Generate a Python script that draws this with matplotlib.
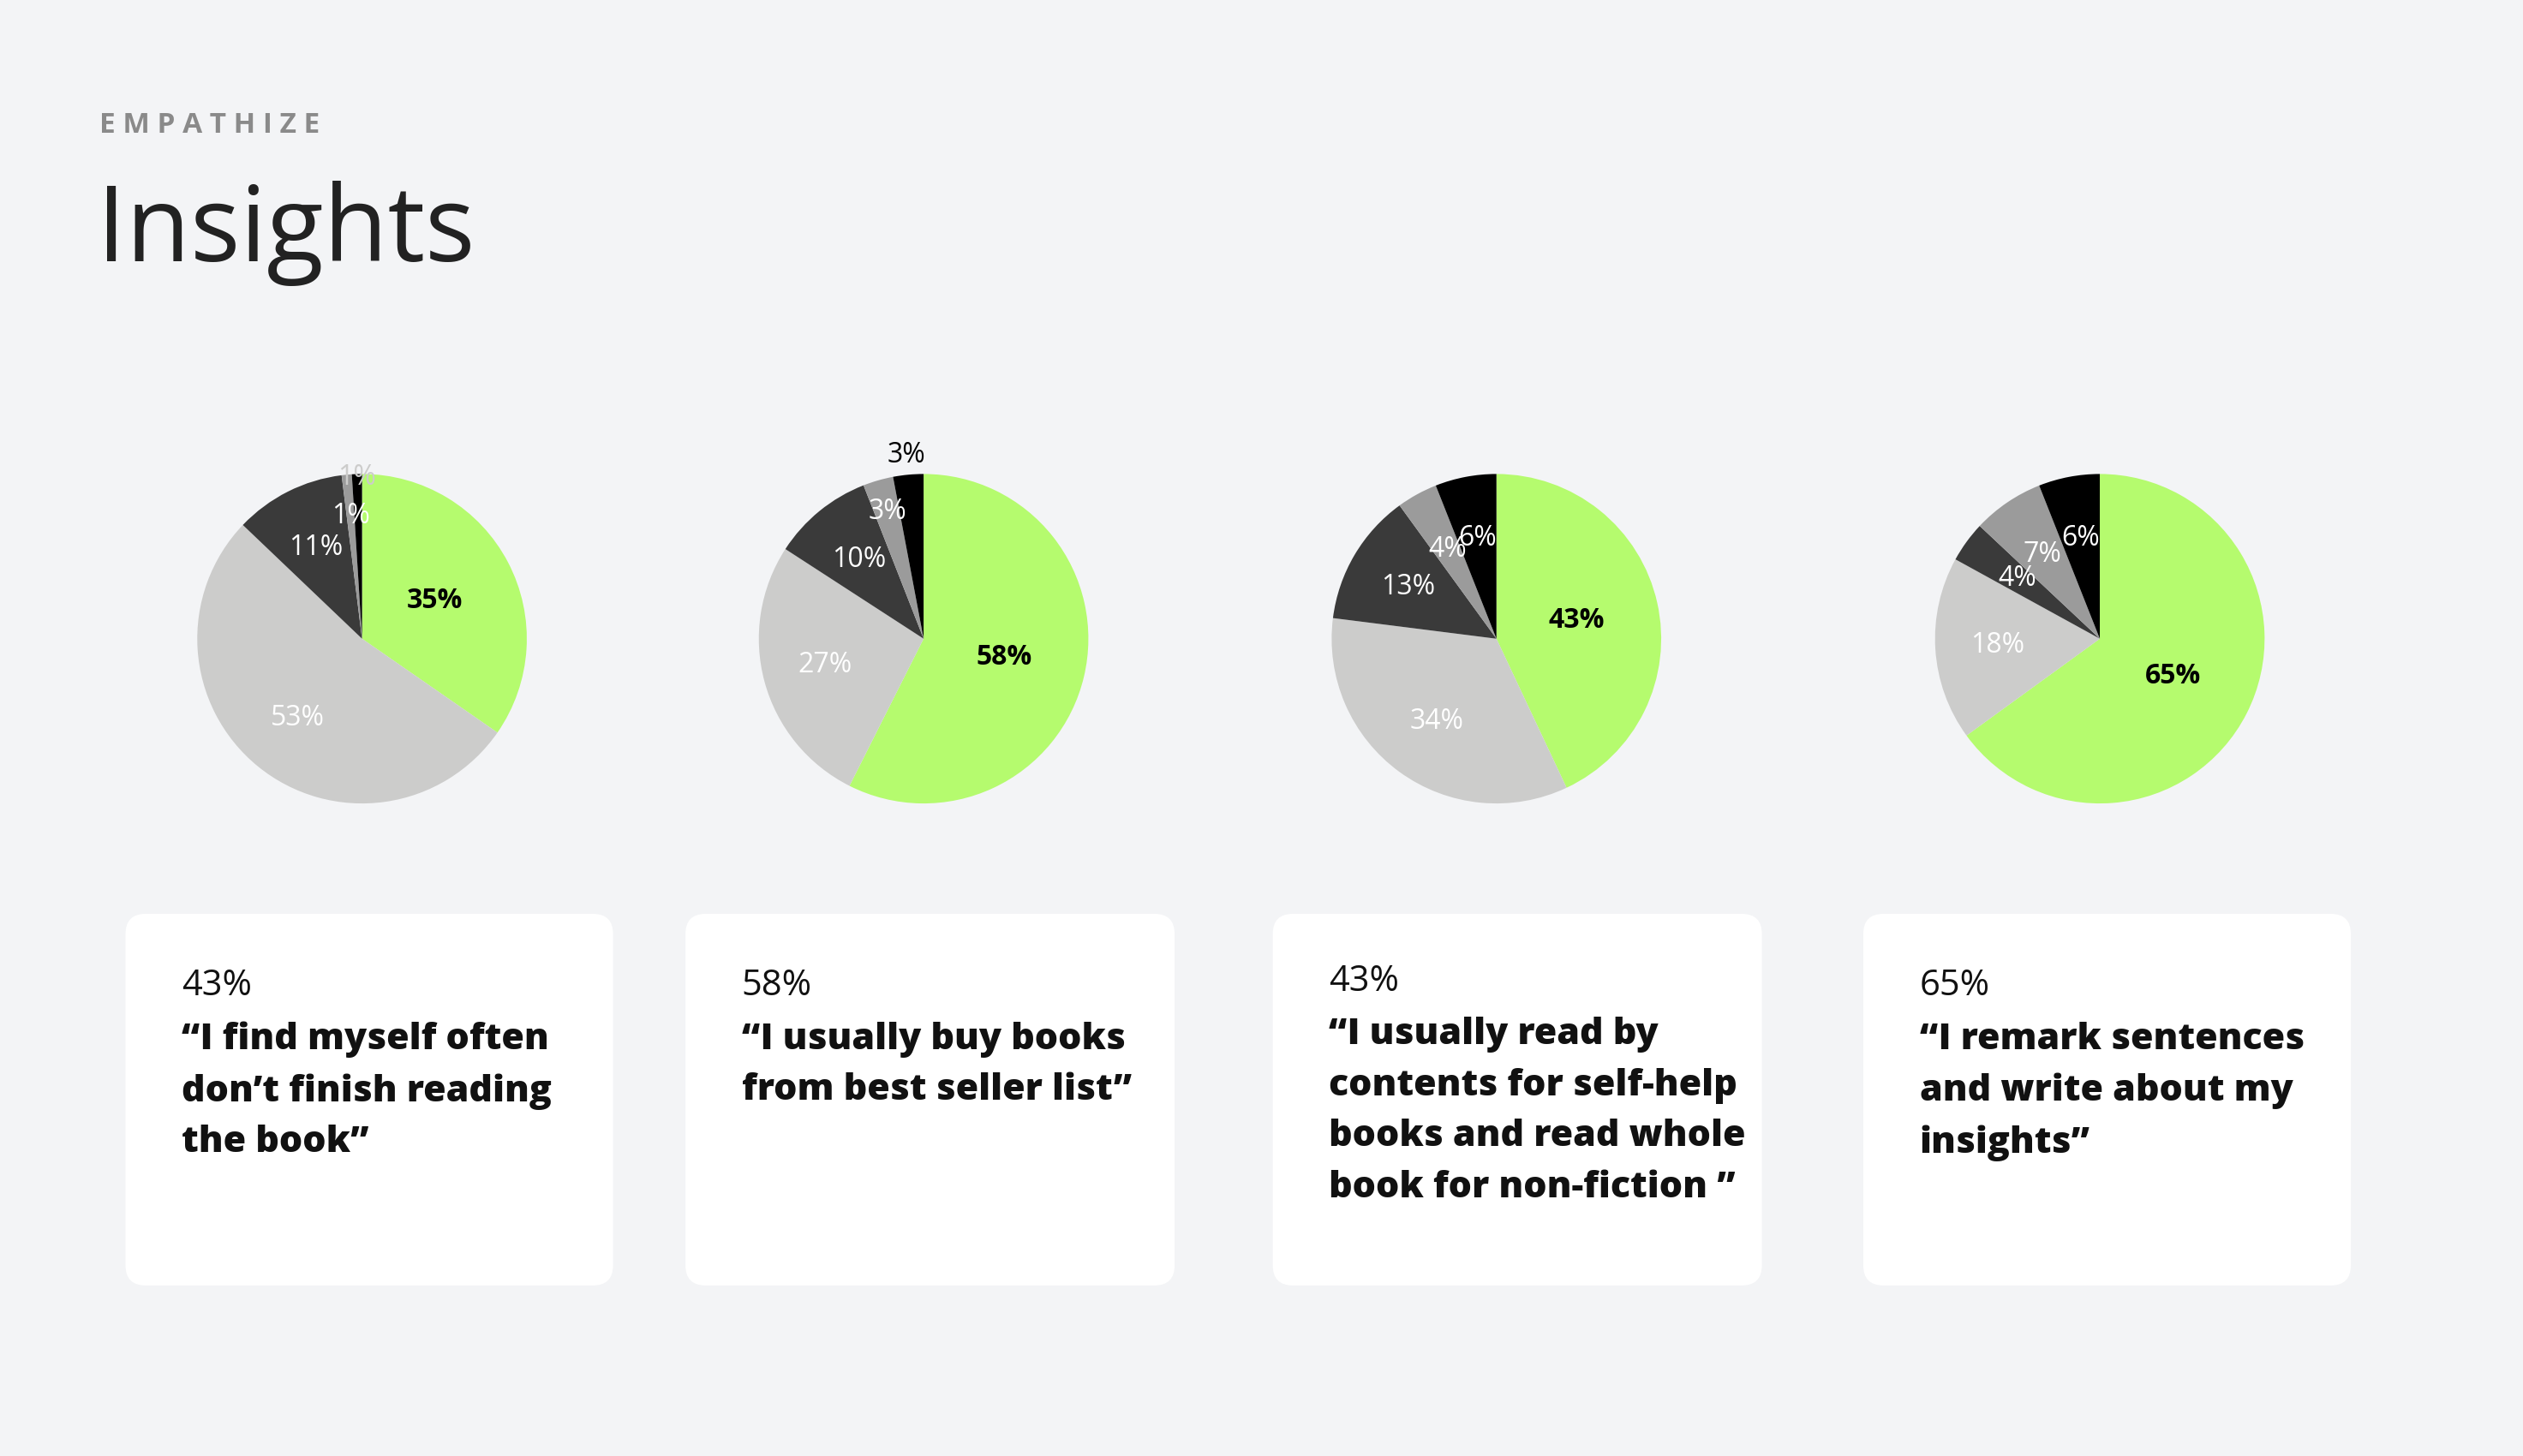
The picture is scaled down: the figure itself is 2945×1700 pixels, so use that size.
import numpy as np
import matplotlib
matplotlib.use('Agg')
import matplotlib.pyplot as plt
from matplotlib.patches import FancyBboxPatch

# данные
pie_values = [
    [35, 53, 11, 1, 1],
    [58, 27, 10, 3, 3],
    [43, 34, 13, 4, 6],
    [65, 18, 4, 7, 6],
]
card_pct = ['43%', '58%', '43%', '65%']
card_quotes = [
    '“I find myself often\ndon’t finish reading\nthe book”',
    '“I usually buy books\nfrom best seller list”',
    '“I usually read by\ncontents for self-help\nbooks and read whole\nbook for non-fiction ”',
    '“I remark sentences\nand write about my\ninsights”',
]
colors = ['#b5fb6e', '#cccccb', '#3a3a3a', '#9b9b9b', '#000000']

W, H = 1568, 905
fig = plt.figure(figsize=(29.45, 17), dpi=100)
fig.patch.set_facecolor('#f3f4f6')
FONT = 'Open Sans'

fig.text(62 / W, 1 - 78 / H, 'E M P A T H I Z E', fontsize=24, fontweight='bold',
         color='#8a8a8a', family=FONT, va='center')
fig.text(60 / W, 1 - 145 / H, 'Insights', fontsize=88, color='#222222',
         family=FONT, va='center')

centers = [225, 574, 930, 1305]
r = 128
cards = [(78, 381), (426, 730), (791, 1095), (1158, 1461)]

for i, vals in enumerate(pie_values):
    cx = centers[i]
    ax = fig.add_axes([(cx - r) / W, 1 - (397 + r) / H, 2 * r / W, 2 * r / H])
    wedges, _ = ax.pie(vals, colors=colors, startangle=90, counterclock=False,
                       wedgeprops=dict(linewidth=0))
    ax.set_aspect('equal')
    for j, (w, v) in enumerate(zip(wedges, vals)):
        ang = np.deg2rad((w.theta1 + w.theta2) / 2)
        if j == 0:
            d, col, fw = 0.5, 'black', 'bold'
        elif v <= 3:
            d, col, fw = 0.8 + 0.25 * (j == 4), 'white', 'normal'
        else:
            d, col, fw = 0.62, 'white', 'normal'
        if i == 1 and j == 4:
            d, col = 1.12, 'black'
        if i == 0 and j >= 3:
            d, col = (0.75 if j == 3 else 0.98), 'white'
            if j == 4:
                col = '#cccccb'
        ax.text(d * np.cos(ang), d * np.sin(ang), f'{v}%', ha='center', va='center',
                fontsize=23, color=col, fontweight=fw, family=FONT)

    x0, x1 = cards[i]
    y0, y1 = 568, 799
    box = FancyBboxPatch((x0 / W, 1 - y1 / H), (x1 - x0) / W, (y1 - y0) / H,
                         boxstyle='round,pad=0,rounding_size=0.008',
                         transform=fig.transFigure, facecolor='white',
                         edgecolor='none', mutation_aspect=W / H)
    fig.patches.append(box)
    ty = 610 if i == 2 else 613
    fig.text((x0 + 35) / W, 1 - ty / H, card_pct[i], fontsize=30, color='#111111',
             family=FONT, va='center')
    fig.text((x0 + 35) / W, 1 - (ty + 22) / H, card_quotes[i], fontsize=31,
             fontweight='heavy', color='#111111', family=FONT, va='top',
             linespacing=1.55)

fig.savefig('out.png', dpi=100, facecolor=fig.get_facecolor())
